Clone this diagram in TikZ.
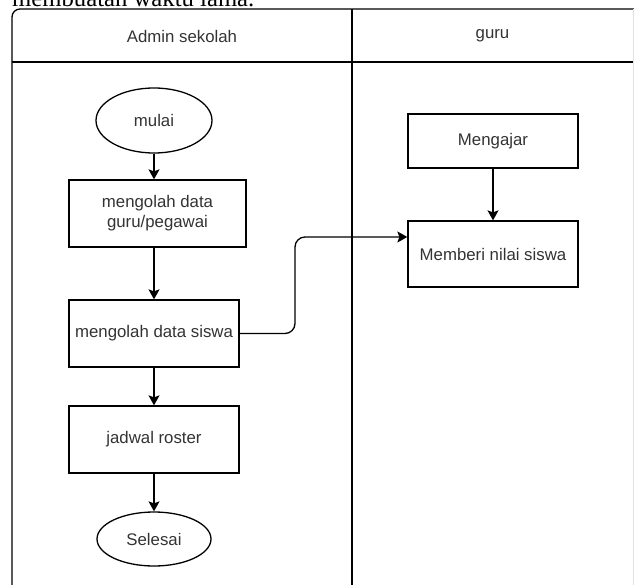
\documentclass[tikz,border=0pt]{standalone}
\usepackage{fontspec}
\setmainfont{Liberation Sans}
\newfontfamily\serifteks{Liberation Serif}
\usetikzlibrary{shapes.geometric,arrows.meta}
\tikzset{
  kotak/.style={draw,line width=1.3pt,minimum width=170pt,minimum height=67pt,inner sep=2pt,align=center,font=\fontsize{16.8}{20}\selectfont,text=black!80},
  bulat/.style={kotak,ellipse,minimum width=116pt,minimum height=65pt},
  judul/.style={font=\fontsize{16.8}{20}\selectfont,text=black!80},
  garis/.style={line width=1.3pt},
  panah/.style={line width=1.3pt,-{Stealth[length=10pt,width=11pt,inset=2pt]}}
}
\begin{document}
\begin{tikzpicture}[x=1pt,y=-1pt]
\useasboundingbox (0,0) rectangle (634,585);
\clip (0,0) rectangle (634,585);
\node[anchor=base west,inner sep=0pt,font=\serifteks\fontsize{24.7}{26}\selectfont] (teksatas) at (12,7) {membuatan waktu lama.};
\draw[garis,rounded corners=8pt] (12,590) -- (12,9) -- (640,9);
\draw[garis] (12,62) -- (640,62);
\draw[garis] (352,9) -- (352,590);
\draw[black!12,line width=1pt] (633.5,9) -- (633.5,590);
\node[judul] (lajuradmin) at (182,36) {Admin sekolah};
\node[judul] (lajurguru) at (492.5,36) {guru};
\node[bulat] (mulai) at (154,120.5) {mulai};
\node[kotak,minimum width=177pt] (olahguru) at (157.5,213.5) {mengolah data\\guru/pegawai};
\node[kotak] (olahsiswa) at (154,333.5) {mengolah data siswa};
\node[kotak] (roster) at (154,439.5) {jadwal roster};
\node[bulat,minimum width=114pt,minimum height=54pt] (selesai) at (154,539) {Selesai};
\node[kotak,minimum height=54pt] (mengajar) at (493,141) {Mengajar};
\node[kotak,minimum height=66pt] (nilai) at (493,254) {Memberi nilai siswa};
\coordinate (belok) at (295,237);
\draw[panah] (mulai.south) -- (mulai.south |- olahguru.north);
\draw[panah] (olahguru.south -| olahsiswa.north) -- (olahsiswa.north);
\draw[panah] (olahsiswa) -- (roster);
\draw[panah] (roster) -- (selesai);
\draw[panah] (mengajar) -- (nilai);
\draw[panah,rounded corners=10pt] (olahsiswa.east) -| (belok) -- (belok -| nilai.west);
\end{tikzpicture}
\end{document}
